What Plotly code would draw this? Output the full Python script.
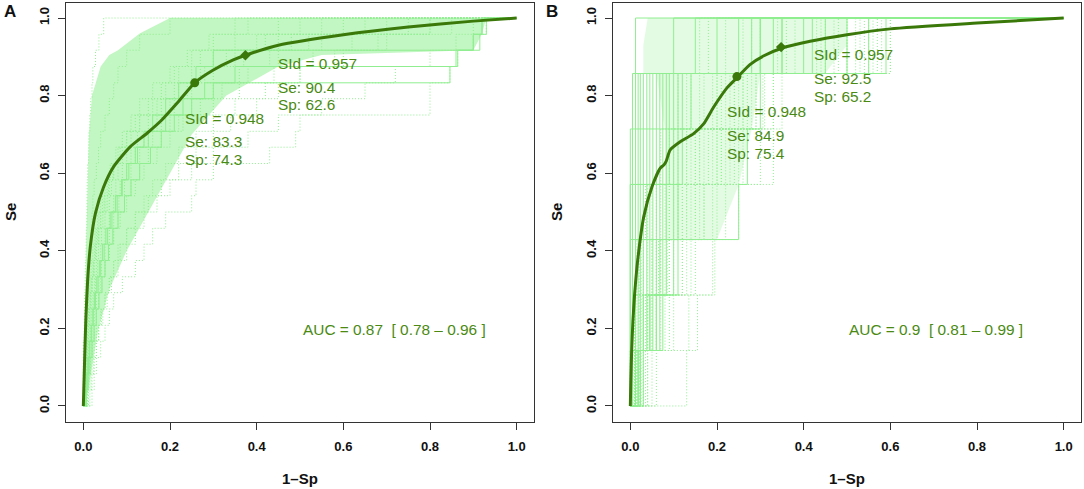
import plotly.graph_objects as go

# ---- panel A: 24 positives -> Se levels ----
a_levels = [0.042, 0.083, 0.125, 0.167, 0.208, 0.25, 0.292, 0.333, 0.375, 0.417, 0.458, 0.5,
            0.542, 0.583, 0.625, 0.667, 0.708, 0.75, 0.792, 0.833, 0.875, 0.917, 0.958, 1.0]

# bootstrap ROC curves: 1-Sp where each Se level is reached
a_boot = [
    [0.0, 0.0, 0.0, 0.0, 0.002, 0.002, 0.003, 0.004, 0.005, 0.006, 0.007, 0.008, 0.008, 0.009, 0.01, 0.012, 0.013, 0.015, 0.017, 0.02, 0.022, 0.028, 0.036, 0.047],
    [0.0, 0.003, 0.005, 0.005, 0.008, 0.008, 0.01, 0.012, 0.012, 0.015, 0.018, 0.02, 0.022, 0.025, 0.03, 0.035, 0.04, 0.05, 0.06, 0.07, 0.08, 0.1, 0.13, 0.2],
    [0.003, 0.005, 0.008, 0.01, 0.012, 0.015, 0.018, 0.02, 0.025, 0.03, 0.035, 0.04, 0.05, 0.06, 0.07, 0.09, 0.11, 0.13, 0.16, 0.19, 0.22, 0.27, 0.35, 0.45],
    [0.005, 0.008, 0.01, 0.013, 0.016, 0.02, 0.024, 0.028, 0.033, 0.04, 0.05, 0.06, 0.07, 0.085, 0.1, 0.12, 0.15, 0.18, 0.21, 0.25, 0.3, 0.37, 0.48, 0.6],
    [0.008, 0.012, 0.016, 0.02, 0.025, 0.03, 0.035, 0.04, 0.05, 0.06, 0.07, 0.085, 0.1, 0.12, 0.14, 0.17, 0.2, 0.23, 0.27, 0.32, 0.38, 0.45, 0.55, 0.7],
    [0.01, 0.015, 0.02, 0.025, 0.03, 0.04, 0.05, 0.06, 0.07, 0.08, 0.1, 0.12, 0.15, 0.18, 0.22, 0.26, 0.3, 0.34, 0.4, 0.45, 0.5, 0.6, 0.7, 0.85],
    [0.02, 0.025, 0.03, 0.04, 0.05, 0.06, 0.07, 0.09, 0.12, 0.14, 0.16, 0.19, 0.25, 0.26, 0.3, 0.43, 0.49, 0.5, 0.8, 0.8, 0.846, 0.864, 0.9, 0.93],
    [0.015, 0.02, 0.025, 0.03, 0.035, 0.045, 0.055, 0.065, 0.08, 0.1, 0.12, 0.14, 0.17, 0.2, 0.25, 0.3, 0.38, 0.45, 0.55, 0.65, 0.72, 0.8, 0.86, 0.9],
    [0.003, 0.004, 0.006, 0.008, 0.01, 0.012, 0.015, 0.018, 0.022, 0.026, 0.03, 0.036, 0.044, 0.055, 0.07, 0.085, 0.1, 0.12, 0.15, 0.18, 0.21, 0.25, 0.3, 0.38],
    [0.005, 0.007, 0.009, 0.012, 0.015, 0.018, 0.022, 0.026, 0.03, 0.035, 0.042, 0.05, 0.06, 0.075, 0.09, 0.11, 0.14, 0.17, 0.2, 0.24, 0.28, 0.33, 0.42, 0.55],
    [0.002, 0.004, 0.006, 0.008, 0.01, 0.013, 0.016, 0.02, 0.024, 0.03, 0.036, 0.045, 0.055, 0.065, 0.08, 0.1, 0.125, 0.15, 0.18, 0.21, 0.25, 0.3, 0.4, 0.5],
    [0.006, 0.01, 0.014, 0.018, 0.022, 0.026, 0.03, 0.036, 0.042, 0.05, 0.06, 0.07, 0.082, 0.095, 0.11, 0.13, 0.16, 0.2, 0.25, 0.3, 0.36, 0.43, 0.52, 0.65],
    [0.01, 0.013, 0.017, 0.021, 0.025, 0.03, 0.036, 0.043, 0.05, 0.06, 0.07, 0.08, 0.095, 0.11, 0.13, 0.15, 0.18, 0.22, 0.3, 0.36, 0.44, 0.53, 0.62, 0.75],
    [0.004, 0.006, 0.008, 0.01, 0.012, 0.014, 0.017, 0.02, 0.024, 0.028, 0.033, 0.04, 0.048, 0.058, 0.068, 0.08, 0.1, 0.13, 0.17, 0.22, 0.27, 0.35, 0.45, 0.8],
    [0.012, 0.018, 0.024, 0.03, 0.036, 0.042, 0.05, 0.06, 0.07, 0.085, 0.1, 0.12, 0.14, 0.16, 0.19, 0.22, 0.26, 0.3, 0.35, 0.42, 0.5, 0.58, 0.68, 0.8],
    [0.001, 0.002, 0.003, 0.005, 0.007, 0.009, 0.012, 0.015, 0.018, 0.022, 0.027, 0.033, 0.04, 0.05, 0.062, 0.075, 0.09, 0.11, 0.13, 0.16, 0.2, 0.24, 0.29, 0.35],
]
# curves shared by many resamples (long horizontals look solid)
a_boot_common = [
    [0.006, 0.009, 0.012, 0.015, 0.019, 0.023, 0.028, 0.034, 0.04, 0.048, 0.056, 0.066, 0.078, 0.09, 0.105, 0.12, 0.14, 0.16, 0.19, 0.22, 0.26, 0.3, 0.915, 0.93],
    [0.004, 0.007, 0.01, 0.014, 0.018, 0.022, 0.026, 0.031, 0.037, 0.044, 0.052, 0.062, 0.074, 0.088, 0.1, 0.125, 0.15, 0.19, 0.23, 0.28, 0.35, 0.864, 0.9, 0.92],
    [0.007, 0.011, 0.015, 0.02, 0.025, 0.03, 0.036, 0.043, 0.05, 0.058, 0.068, 0.08, 0.095, 0.11, 0.13, 0.155, 0.18, 0.21, 0.25, 0.3, 0.846, 0.86, 0.9, 0.92],
]

# dense core of the bootstrap cloud (A)
a_core_se = [0, 0.1, 0.2, 0.3, 0.4, 0.5, 0.6, 0.7, 0.8, 0.875, 0.905, 0.917, 0.96, 1.0]
a_core_left = [0, 0.002, 0.004, 0.005, 0.006, 0.008, 0.01, 0.013, 0.02, 0.04, 0.06, 0.08, 0.13, 0.2]
a_core_right = [0.005, 0.02, 0.035, 0.06, 0.1, 0.15, 0.2, 0.25, 0.33, 0.45, 0.55, 0.9, 0.92, 0.93]

# smoothed ROC (A)
a_fpr = [0, 0.002, 0.004, 0.006, 0.010, 0.016, 0.028, 0.047, 0.07, 0.108, 0.147, 0.181, 0.216,
         0.257, 0.30, 0.346, 0.374, 0.45, 0.6, 0.75, 0.9, 1.0]
a_se = [0, 0.08, 0.16, 0.23, 0.325, 0.41, 0.497, 0.565, 0.617, 0.668, 0.703, 0.737, 0.78,
        0.833, 0.866, 0.892, 0.904, 0.93, 0.957, 0.977, 0.992, 1.0]
a_opt1 = (0.257, 0.833)   # SId 0.948
a_opt2 = (0.374, 0.904)   # SId 0.957
a_auc = "AUC = 0.87 \u00a0[ 0.78 \u2013 0.96 ]"
a_txt1 = ["SId = 0.948", "Se: 83.3", "Sp: 74.3"]
a_txt2 = ["SId = 0.957", "Se: 90.4", "Sp: 62.6"]

# ---- panel B: 7 positives ----
b_levels = [0.143, 0.286, 0.429, 0.571, 0.714, 0.857, 1.0]

# curves drawn many times over (they look solid in the picture)
b_boot_common = [
    [0.005, 0.005, 0.005, 0.005, 0.005, 0.005, 0.012],
    [0.012, 0.012, 0.012, 0.012, 0.012, 0.012, 0.1],
    [0.018, 0.018, 0.018, 0.018, 0.018, 0.018, 0.2],
    [0.023, 0.023, 0.023, 0.023, 0.023, 0.023, 0.15],
    [0.0, 0.03, 0.03, 0.03, 0.03, 0.03, 0.25],
    [0.0, 0.038, 0.038, 0.038, 0.038, 0.038, 0.3],
    [0.005, 0.045, 0.045, 0.045, 0.045, 0.045, 0.33],
    [0.005, 0.052, 0.052, 0.052, 0.052, 0.052, 0.4],
    [0.012, 0.06, 0.06, 0.06, 0.06, 0.06, 0.45],
    [0.012, 0.068, 0.068, 0.068, 0.068, 0.068, 0.5],
    [0.018, 0.075, 0.075, 0.075, 0.075, 0.075, 0.55],
    [0.018, 0.03, 0.083, 0.083, 0.083, 0.083, 0.59],
    [0.023, 0.045, 0.11, 0.11, 0.11, 0.11, 0.35],
    [0.03, 0.06, 0.1, 0.25, 0.27, 0.3, 0.42],
    [0.0, 0.0, 0.0, 0.1, 0.1, 0.1, 0.3],
    [0.0, 0.0, 0.0, 0.0, 0.12, 0.12, 0.35],
    [0.0, 0.0, 0.0, 0.0, 0.09, 0.09, 0.28],
    [0.0, 0.0, 0.0, 0.0, 0.0, 0.14, 0.3],
]
b_boot_rare = [
    [0.13, 0.155, 0.19, 0.25, 0.33, 0.35, 0.6],
    [0.02, 0.135, 0.195, 0.22, 0.3, 0.33, 0.5],
    [0.01, 0.02, 0.04, 0.1, 0.2, 0.33, 0.55],
    [0.015, 0.05, 0.09, 0.15, 0.25, 0.306, 0.58],
    [0.008, 0.015, 0.025, 0.04, 0.09, 0.16, 0.5],
    [0.025, 0.035, 0.06, 0.09, 0.13, 0.22, 0.45],
    [0.04, 0.08, 0.12, 0.17, 0.21, 0.24, 0.52],
    [0.01, 0.03, 0.05, 0.12, 0.18, 0.2, 0.28],
    [0.05, 0.09, 0.15, 0.19, 0.23, 0.26, 0.56],
    [0.015, 0.025, 0.07, 0.13, 0.16, 0.19, 0.36],
    [0.035, 0.045, 0.085, 0.15, 0.2, 0.25, 0.47],
    [0.002, 0.01, 0.02, 0.07, 0.11, 0.14, 0.26],
    [0.06, 0.1, 0.14, 0.2, 0.26, 0.29, 0.54],
    [0.01, 0.06, 0.13, 0.17, 0.24, 0.28, 0.43],
    [0.03, 0.04, 0.065, 0.11, 0.15, 0.21, 0.6],
    [0.005, 0.01, 0.02, 0.05, 0.15, 0.2, 0.3],
    [0.0, 0.02, 0.05, 0.08, 0.13, 0.17, 0.22],
    [0.01, 0.04, 0.07, 0.11, 0.16, 0.23, 0.38],
    [0.02, 0.05, 0.1, 0.14, 0.19, 0.27, 0.48],
    [0.0, 0.01, 0.03, 0.06, 0.1, 0.13, 0.18],
    [0.03, 0.07, 0.12, 0.16, 0.21, 0.29, 0.57],
    [0.015, 0.03, 0.06, 0.09, 0.14, 0.24, 0.34],
    [0.04, 0.06, 0.09, 0.13, 0.17, 0.26, 0.44],
    [0.0, 0.005, 0.015, 0.035, 0.07, 0.11, 0.16],
    [0.02, 0.04, 0.08, 0.12, 0.22, 0.31, 0.53],
]

b_core_se = [0.43, 0.57, 0.714, 0.857, 0.858, 0.93, 1.0]
b_core_left = [0.08, 0.08, 0.08, 0.06, 0.03, 0.03, 0.04]
b_core_right = [0.2, 0.25, 0.28, 0.3, 0.45, 0.5, 0.5]

b_fpr = [0, 0.001, 0.003, 0.006, 0.010, 0.017, 0.031, 0.05, 0.069, 0.078, 0.083, 0.092, 0.115,
         0.146, 0.169, 0.192, 0.223, 0.246, 0.276, 0.307, 0.349, 0.415, 0.5, 0.6, 0.8, 1.0]
b_se = [0, 0.06, 0.14, 0.22, 0.29, 0.376, 0.488, 0.565, 0.613, 0.622, 0.632, 0.66, 0.681,
        0.702, 0.727, 0.77, 0.82, 0.846, 0.88, 0.902, 0.922, 0.94, 0.957, 0.972, 0.987, 1.0]
b_opt1 = (0.246, 0.849)
b_opt2 = (0.348, 0.925)
b_auc = "AUC = 0.9 \u00a0[ 0.81 \u2013 0.99 ]"
b_txt1 = ["SId = 0.948", "Se: 84.9", "Sp: 75.4"]
b_txt2 = ["SId = 0.957", "Se: 92.5", "Sp: 65.2"]

tick_vals = [0, 0.2, 0.4, 0.6, 0.8, 1.0]
tick_text = ["0.0", "0.2", "0.4", "0.6", "0.8", "1.0"]

LIGHT = "#90EE90"
LINE = "#3A780A"
TXT = "#4A8A12"
FONT = "Liberation Sans"
TXT_SIZE = 15.4


def step_paths(curves, levels):
    """Join step ROC curves into one x/y list with None gaps."""
    xs, ys = [], []
    for jumps in curves:
        px, py, prev = [0], [0], 0
        for x, y in zip(jumps, levels):
            px += [x, x]
            py += [prev, y]
            prev = y
        px.append(1)
        py.append(1)
        xs += px + [None]
        ys += py + [None]
    return xs, ys


fig = go.Figure()


def add_panel(xa, ya, core, boots, fpr, se, opt1, opt2, txt1, txt2, txt1_pos, txt2_pos, auc, auc_pos):
    core_se, core_l, core_r = core
    fig.add_trace(go.Scatter(
        x=core_l + core_r[::-1], y=core_se + core_se[::-1],
        mode="lines", fill="toself", fillcolor=boots["fill"],
        line=dict(width=0), hoverinfo="skip", showlegend=False, xaxis=xa, yaxis=ya))
    for curves, solid in boots["sets"]:
        bx, by = step_paths(curves, boots["levels"])
        fig.add_trace(go.Scatter(
            x=bx, y=by, mode="lines",
            line=dict(color=LIGHT, width=1, dash="solid" if solid else "1px,2px"),
            hoverinfo="skip", showlegend=False, xaxis=xa, yaxis=ya))
    fig.add_trace(go.Scatter(x=fpr, y=se, mode="lines",
                             line=dict(color=LINE, width=3, shape="spline", smoothing=0.6),
                             showlegend=False, xaxis=xa, yaxis=ya))
    fig.add_trace(go.Scatter(x=[opt1[0]], y=[opt1[1]], mode="markers",
                             marker=dict(symbol="circle", size=9, color=LINE),
                             showlegend=False, xaxis=xa, yaxis=ya))
    fig.add_trace(go.Scatter(x=[opt2[0]], y=[opt2[1]], mode="markers",
                             marker=dict(symbol="diamond", size=8, color=LINE),
                             showlegend=False, xaxis=xa, yaxis=ya))
    for lines, (x0, ys) in ((txt1, txt1_pos), (txt2, txt2_pos)):
        for t, yy in zip(lines, ys):
            fig.add_annotation(x=x0, y=yy, xref=xa, yref=ya, text=t, showarrow=False,
                               xanchor="left", yanchor="middle",
                               font=dict(family=FONT, size=TXT_SIZE, color=TXT))
    fig.add_annotation(x=auc_pos[0], y=auc_pos[1], xref=xa, yref=ya, text=auc, showarrow=False,
                       xanchor="left", yanchor="middle", font=dict(family=FONT, size=TXT_SIZE, color=TXT))


add_panel("x", "y", (a_core_se, a_core_left, a_core_right),
          {"fill": "rgba(144,238,144,0.55)", "levels": a_levels,
           "sets": [(a_boot, False), (a_boot_common, True)]},
          a_fpr, a_se, a_opt1, a_opt2, a_txt1, a_txt2,
          (0.229, [0.741, 0.681, 0.636]), (0.444, [0.884, 0.822, 0.777]),
          a_auc, (0.502, 0.197))
add_panel("x2", "y2", (b_core_se, b_core_left, b_core_right),
          {"fill": "rgba(144,238,144,0.25)", "levels": b_levels,
           "sets": [(b_boot_common, True), (b_boot_rare, False)]},
          b_fpr, b_se, b_opt1, b_opt2, b_txt1, b_txt2,
          (0.218, [0.759, 0.698, 0.651]), (0.419, [0.906, 0.844, 0.798]),
          b_auc, (0.5, 0.197))

W, H = 1084, 489
ydom = [1 - 421.5 / H, 1 - 2.5 / H]
axis_common = dict(range=[-0.04, 1.04], tickvals=tick_vals, ticktext=tick_text,
                   showline=True, mirror=True, linecolor="#333333", linewidth=1,
                   ticks="outside", ticklen=7, tickcolor="#333333", showgrid=False, zeroline=False,
                   tickfont=dict(family=FONT, size=13, color="#111111", weight="bold"))
fig.update_layout(
    width=W, height=H, margin=dict(l=0, r=0, t=0, b=0),
    paper_bgcolor="white", plot_bgcolor="white",
    xaxis=dict(domain=[66 / W, 534 / W], anchor="y", ticklabelstandoff=6, **axis_common),
    yaxis=dict(domain=ydom, anchor="x", tickangle=-90, ticklabelstandoff=4, **axis_common),
    xaxis2=dict(domain=[613 / W, 1081 / W], anchor="y2", ticklabelstandoff=6, **axis_common),
    yaxis2=dict(domain=ydom, anchor="x2", tickangle=-90, ticklabelstandoff=4, **axis_common),
)

# axis titles and panel letters
labels = [
    ("1\u2013Sp", 300, 478, 0, 15), ("1\u2013Sp", 847, 478, 0, 15),
    ("Se", 10, 212, -90, 15), ("Se", 556, 212, -90, 15),
    ("A", 10, 12, 0, 17), ("B", 552, 12, 0, 17),
]
for t, px, py, ang, sz in labels:
    fig.add_annotation(x=px / W, y=1 - py / H, xref="paper", yref="paper", text=t, showarrow=False,
                       textangle=ang, xanchor="center", yanchor="middle",
                       font=dict(family=FONT, size=sz, color="#111111", weight="bold"))

# page has a default body margin; drop it so the figure sits at the window corner
fig.write_html("out.html", config={"displayModeBar": False},
               post_script="document.body.style.margin='0px';")
